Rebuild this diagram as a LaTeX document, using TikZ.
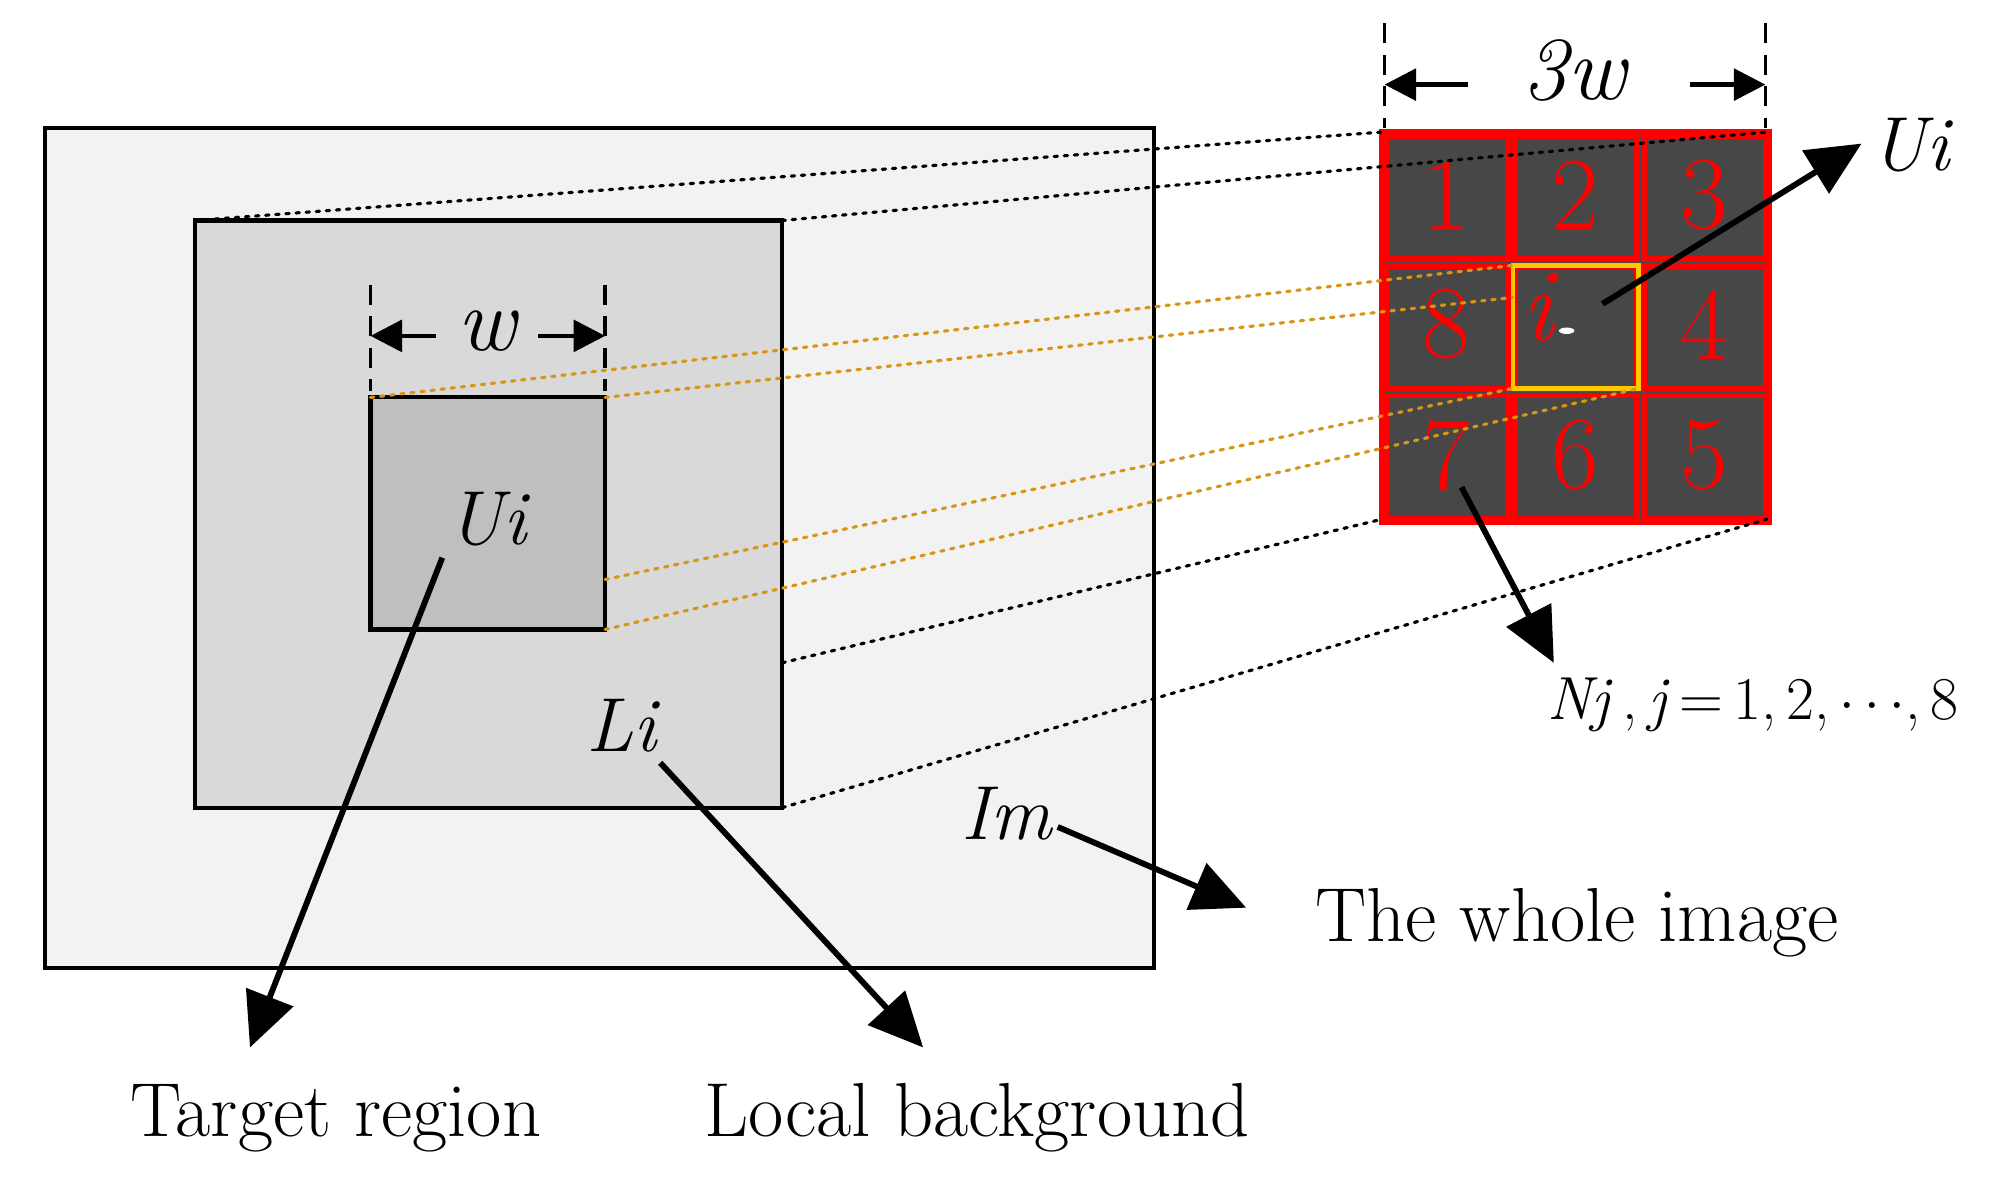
\documentclass[tikz,border=0pt]{standalone}
\usetikzlibrary{arrows.meta}
\begin{document}
\begin{tikzpicture}[x=0.02cm,y=-0.02cm,
 box/.style={line width=1.8pt,draw=black},
 dot/.style={line width=1.4pt,dash pattern=on 1.5pt off 3pt,line cap=round},
 odot/.style={dot,draw={rgb,255:red,215;green,150;blue,20}},
 big/.style={line width=2.6pt,-{Triangle[length=24pt,width=22pt]}},
 dim/.style={line width=2pt,-{Triangle[length=14pt,width=14pt]}},
 dsh/.style={line width=1.5pt,dash pattern=on 9pt off 5pt},
 lab/.style={font=\fontsize{32}{38}\selectfont},
 ital/.style={font=\fontsize{34}{40}\selectfont\itshape},
 num/.style={text=red,font=\fontsize{46}{52}\selectfont}]
\useasboundingbox (0,0) rectangle (1560,936);
\fill[white] (0,0) rectangle (1560,936);
% left rectangles
\filldraw[box,fill=black!5] (35,100) rectangle (900,755);
\filldraw[box,fill=black!15] (152,172) rectangle (610,630);
\filldraw[box,fill=black!25] (289,310) rectangle (472,491);
\coordinate (mtl) at (152,172); \coordinate (mtr) at (610,172);
\coordinate (mr1) at (610,517); \coordinate (mbr) at (610,630);
\coordinate (itl) at (289,310); \coordinate (itr) at (472,310);
\coordinate (ir1) at (472,452); \coordinate (ibr) at (472,491);
% grid
\fill[black!72] (1078,103) rectangle (1380,407);
\foreach \i in {0,1,2}{\foreach \j in {0,1,2}{
 \draw[red,line width=2.5pt] (1078+\i*100.7+3,103+\j*101.3+3) rectangle (1078+\i*100.7+98,103+\j*101.3+99);}}
\draw[red,line width=2.5pt] (1078,103) rectangle (1380,407);
\draw[line width=2pt,draw={rgb,255:red,255;green,200;blue,0}] (1180,207) rectangle (1278,303);
\coordinate (gtl) at (1078,103); \coordinate (gtr) at (1378,103);
\coordinate (gbl) at (1078,405); \coordinate (gbr) at (1378,405);
\coordinate (ytl) at (1180,207); \coordinate (ytl2) at (1180,232);
\coordinate (ybl) at (1180,303); \coordinate (ybr) at (1278,303);
\foreach \t/\x/\y in {1/1128/152,2/1229/152,3/1329/152,8/1128/253,4/1329/253,7/1128/355,6/1229/355,5/1329/355}
 \node[num] (n\t) at (\x,\y) {\t};
\node[text=red,font=\fontsize{46}{52}\selectfont\itshape] (ii) at (1200,240) {i};
\fill[white] (1222,258) ellipse (6 and 2.5);
% dotted projection lines
\draw[dot] (mtl) -- (gtl); \draw[dot] (mtr) -- (gtr);
\draw[dot] (mr1) -- (gbl); \draw[dot] (mbr) -- (gbr);
\draw[odot] (itl) -- (ytl); \draw[odot] (itr) -- (ytl2);
\draw[odot] (ir1) -- (ybl); \draw[odot] (ibr) -- (ybr);
% dimension w
\draw[dsh] (289,222) -- (289,305); \draw[dsh] (472,222) -- (472,305);
\node[ital,font=\fontsize{40}{44}\selectfont\itshape] (w) at (380,258) {w};
\coordinate (wl) at (289,262); \coordinate (wr) at (472,262);
\coordinate (wla) at (340,262); \coordinate (wra) at (420,262);
\draw[dim] (wla) -- (wl); \draw[dim] (wra) -- (wr);
% dimension 3w
\draw[dsh] (1080,18) -- (1080,100); \draw[dsh] (1377,18) -- (1377,100);
\node[ital,font=\fontsize{40}{44}\selectfont\itshape] (tw) at (1228,55) {3w};
\coordinate (tl) at (1080,66); \coordinate (tr) at (1377,66);
\coordinate (tla) at (1145,66); \coordinate (tra) at (1318,66);
\draw[dim] (tla) -- (tl); \draw[dim] (tra) -- (tr);
% labels and arrows
\node[ital] (ui2) at (1490,113) {Ui};
\coordinate (uis) at (1250,237); \coordinate (uie) at (1452,112);
\draw[big] (uis) -- (uie);
\node[font=\fontsize{27}{32}\selectfont,anchor=east,inner sep=0pt] (nj) at (1528,550) {\textit{Nj}\,,\,\textit{j}\,=\,1,\,2,\,$\cdots$,\,8};
\coordinate (njs) at (1140,380); \coordinate (nje) at (1212,517);
\draw[big] (njs) -- (nje);
\node[ital] (im) at (785,635) {Im};
\coordinate (ime) at (972,708);
\draw[big] (825,645) -- (ime);
\node[lab,font=\fontsize{34}{40}\selectfont] (whole) at (1230,720) {The whole image};
\node[ital] (ui) at (380,405) {Ui};
\coordinate (uie2) at (195,817);
\draw[big] (345,435) -- (uie2);
\node[ital] (li) at (485,566) {Li};
\coordinate (lie) at (720,817);
\draw[big] (515,595) -- (lie);
\node[lab,font=\fontsize{34}{40}\selectfont] (tr2) at (262,872) {Target region};
\node[lab,font=\fontsize{34}{40}\selectfont] (lb) at (762,872) {Local background};
\end{tikzpicture}
\end{document}
